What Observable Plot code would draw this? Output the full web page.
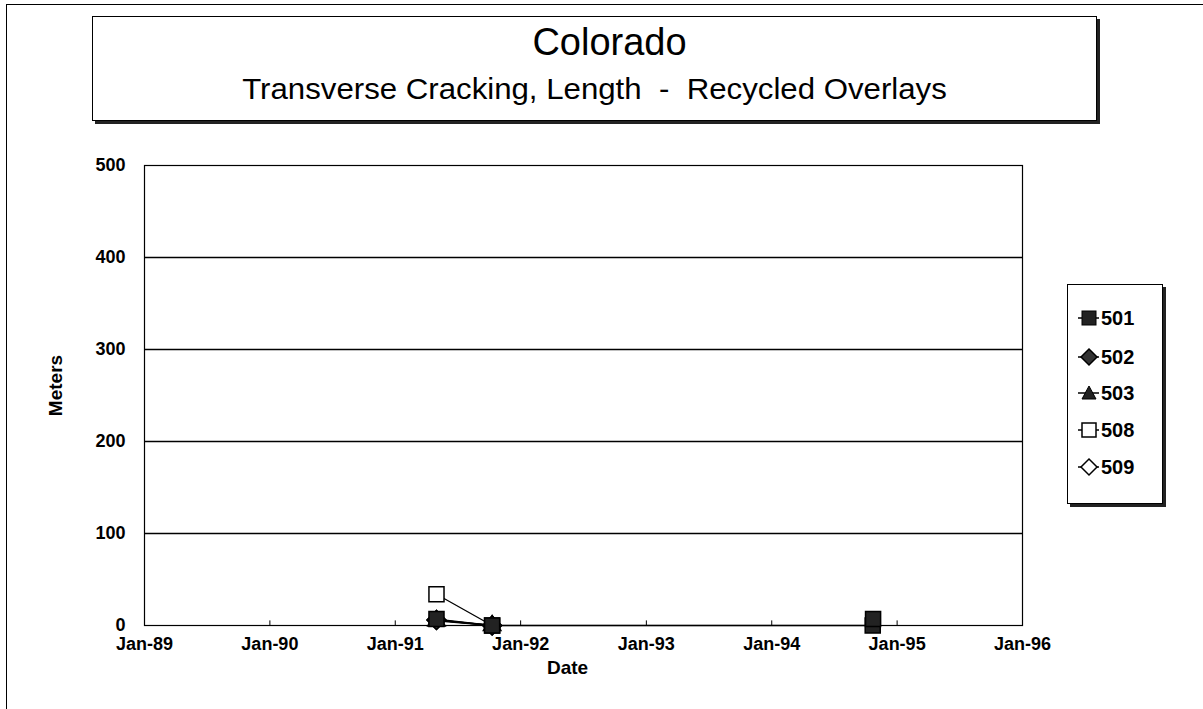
<!DOCTYPE html>
<html>
<head>
<meta charset="utf-8">
<script src="https://cdn.jsdelivr.net/npm/d3@7"></script>
<script src="https://cdn.jsdelivr.net/npm/@observablehq/plot@0.6"></script>
<style>
  html, body { margin: 0; padding: 0; background: #fff; }
  #page { position: relative; width: 1203px; height: 709px; overflow: hidden; background: #fff;
          font-family: "Liberation Sans", Arial, sans-serif; color: #000; }
  #outer { position: absolute; left: 6px; top: 4px; right: -10px; bottom: -10px;
           border-left: 1.5px solid #000; border-top: 1.5px solid #000; }
  #titlebox { position: absolute; left: 92px; top: 16px; width: 1003px; height: 103px;
              border: 1.5px solid #000; box-shadow: 3px 3px 0 #222; background: #fff; text-align: center; }
  #title { position: absolute; left: 0; right: 0; top: 5px; font-size: 38px; line-height: 40px; padding-left: 30px; }
  #subtitle { position: absolute; left: 0; right: 0; top: 56px; font-size: 30px; line-height: 32px;
              transform: scaleX(1.04); }
  #chart { position: absolute; left: 0; top: 140px; }
  #legend { position: absolute; left: 1067px; top: 284px; width: 94px; height: 218px;
            border: 1.5px solid #000; box-shadow: 3px 3px 0 #222; background: #fff; }
</style>
</head>
<body>
<div id="page">
  <div id="outer"></div>
  <div id="titlebox">
    <div id="title">Colorado</div>
    <div id="subtitle">Transverse Cracking, Length &nbsp;-&nbsp; Recycled Overlays</div>
  </div>
  <div id="chart"></div>
  <div id="legend"></div>
</div>
<script>
// ---- data ----
const seriesNames = ["501", "502", "503", "508", "509"];
const s501Dates = ["1991-05-01", "1991-10-10", "1994-10-22", "1994-10-23"];
const s501Values = [7, 0, 0, 7];
const s502Dates = ["1991-05-01", "1991-10-10"];
const s502Values = [6, 0];
const s503Dates = ["1991-05-01", "1991-10-10"];
const s503Values = [5, 0];
const s508Dates = ["1991-05-01", "1991-10-10"];
const s508Values = [34, 0];
const s509Dates = ["1991-05-01", "1991-10-10"];
const s509Values = [6, 0];
const xTickDates = ["1989-01-01","1990-01-01","1991-01-01","1992-01-01","1993-01-01","1994-01-01","1995-01-01","1996-01-01"];
const yTickValues = [0, 100, 200, 300, 400, 500];
const gridValues = [100, 200, 300, 400];
const xLabel = "Date";
const yLabel = "Meters";

const seriesDates = {"501": s501Dates, "502": s502Dates, "503": s503Dates, "508": s508Dates, "509": s509Dates};
const seriesValues = {"501": s501Values, "502": s502Values, "503": s503Values, "508": s508Values, "509": s509Values};
const rows = seriesNames.flatMap(name => seriesDates[name].map((d, i) => ({
  series: name, date: new Date(d + "T00:00:00Z"), value: seriesValues[name][i]
})));
const xTicks = xTickDates.map(d => new Date(d + "T00:00:00Z"));
const fmt = d3.utcFormat("%b-%y");

// marker styles per series
const symbolOf = {"501": "square", "502": "diamond2", "503": "triangle", "508": "square", "509": "diamond2"};
const fillOf = {"501": "#222", "502": "#333", "503": "#222", "508": "white", "509": "white"};
const drawOrder = ["509", "508", "503", "502", "501"];

const marks = [
  Plot.ruleY(gridValues, {stroke: "black", strokeWidth: 1.5}),
  Plot.frame({stroke: "black", strokeWidth: 1.2}),
  Plot.ruleX(xTicks, {y1: 0, y2: 5, stroke: "black", strokeWidth: 1}),
  Plot.axisY({ticks: yTickValues, tickSize: 0, tickPadding: 19, label: null, fontSize: 18}),
  Plot.axisX({ticks: xTicks, tickSize: 0, tickPadding: 12, tickFormat: fmt, label: null, fontSize: 18}),
  Plot.text([yLabel], {text: d => d, frameAnchor: "left", textAnchor: "middle", dx: -89, dy: -10, rotate: -90, fontSize: 19}),
  Plot.text([xLabel], {text: d => d, frameAnchor: "bottom", textAnchor: "middle", dy: 48, dx: -16, fontSize: 19})
];
for (const name of drawOrder) {
  const data = rows.filter(r => r.series === name);
  marks.push(Plot.line(data, {x: "date", y: "value", stroke: "black", strokeWidth: 1.3}));
}
for (const name of drawOrder) {
  const data = rows.filter(r => r.series === name);
  marks.push(Plot.dot(data, {x: "date", y: "value", symbol: () => symbolOf[name],
    r: name === "503" ? 6.5 : 8.5, fill: fillOf[name], stroke: "black", strokeWidth: 1.5}));
}

const chart = Plot.plot({
  width: 1060,
  height: 569,
  marginLeft: 144,
  marginRight: 38,
  marginTop: 25,
  marginBottom: 84,
  x: {type: "utc", domain: [xTicks[0], xTicks[xTicks.length - 1]]},
  y: {domain: [0, 500]},
  symbol: {type: "identity"},
  style: {fontFamily: "'Liberation Sans', Arial, sans-serif", fontSize: "18px", fontWeight: "bold",
          color: "black", background: "transparent", overflow: "visible"},
  marks
});
document.getElementById("chart").appendChild(chart);

// legend
const legendSym = {
  "501": '<rect x="-7" y="-7" width="14" height="14" fill="#222" stroke="#000"/>',
  "502": '<path d="M0,-8L8,0L0,8L-8,0Z" fill="#333" stroke="#000" stroke-width="1.5"/>',
  "503": '<path d="M0,-7L7,6L-7,6Z" fill="#222" stroke="#000"/>',
  "508": '<rect x="-7" y="-7" width="14" height="14" fill="#fff" stroke="#000" stroke-width="1.5"/>',
  "509": '<path d="M0,-8L8,0L0,8L-8,0Z" fill="#fff" stroke="#000" stroke-width="1.5"/>'
};
const legendY = [33, 72, 108, 145, 182];
let svg = '<svg width="94" height="218" style="display:block;font-family:\'Liberation Sans\',Arial,sans-serif">';
seriesNames.forEach((name, i) => {
  const y = legendY[i];
  svg += `<line x1="10" x2="31" y1="${y}" y2="${y}" stroke="#000" stroke-width="1.5"/>`;
  svg += `<g transform="translate(21,${y})">${legendSym[name]}</g>`;
  svg += `<text x="33" y="${y}" dy="0.35em" font-size="20" font-weight="bold">${name}</text>`;
});
svg += '</svg>';
document.getElementById("legend").innerHTML = svg;
</script>
</body>
</html>
